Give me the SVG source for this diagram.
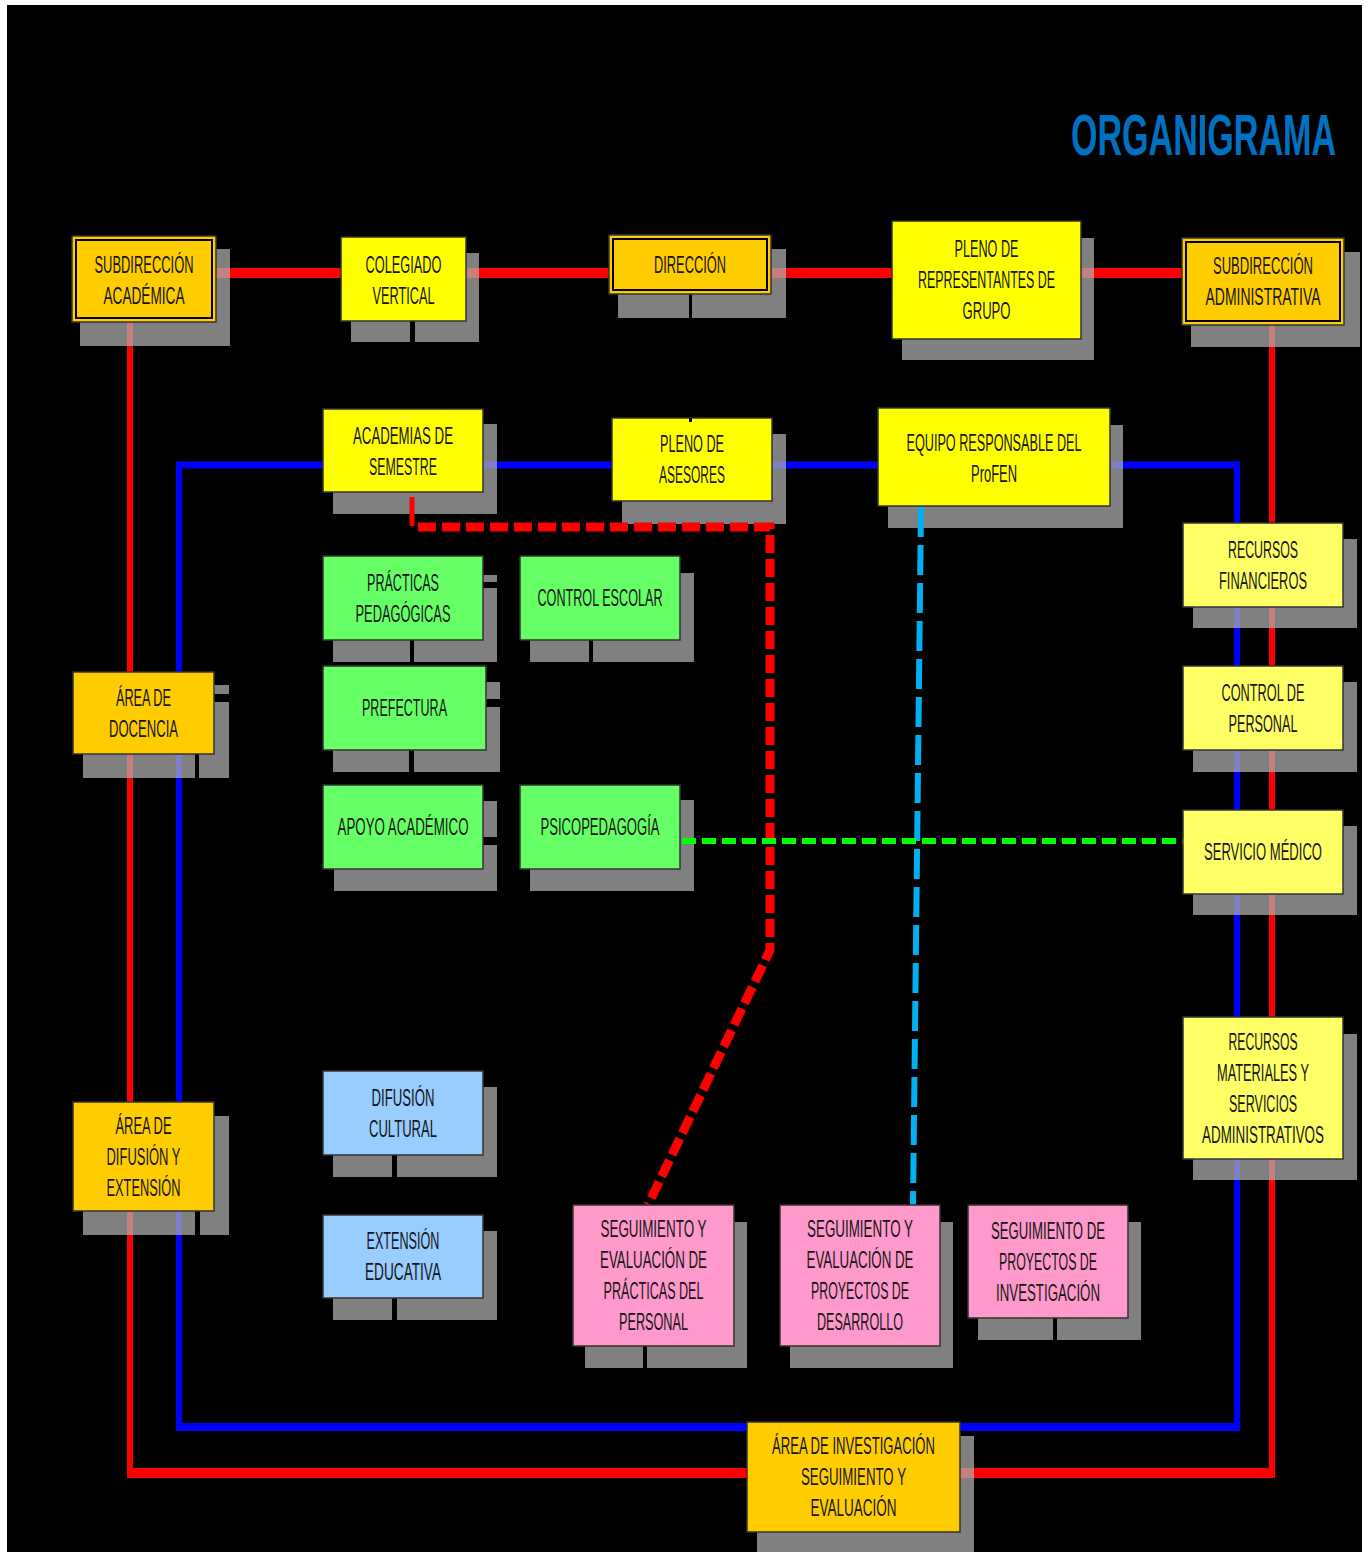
<svg xmlns="http://www.w3.org/2000/svg" width="1367" height="1552" viewBox="0 0 1367 1552">
<style>
.t{font-family:"Liberation Sans",Arial,sans-serif;font-size:23px;fill:#151515;text-anchor:middle}
.title{font-family:"Liberation Sans",Arial,sans-serif;font-size:58px;font-weight:bold;fill:#0070C0}
.sh{fill:#b2b2b2;fill-opacity:0.72}
.bx{stroke:#333;stroke-width:1.5}
.or{fill:#FFCC00}
.ye{fill:#FFFF00}
.ly{fill:#FFFF66}
.gr{fill:#66FF66}
.bl{fill:#99CCFF}
.pk{fill:#FF99CC}
.in{fill:none;stroke:#000;stroke-width:2}
.cut{fill:#000}
</style>
<rect x="0" y="0" width="1367" height="1552" fill="#fff"/>
<rect x="7" y="5" width="1355" height="1547" fill="#000"/>
<text class="title" x="1071" y="155" textLength="265" lengthAdjust="spacingAndGlyphs">ORGANIGRAMA</text>

<g id="connectors-solid" fill="none">
  <line x1="216" y1="273" x2="1182" y2="273" stroke="#FF0000" stroke-width="10"/>
  <line x1="130" y1="322" x2="130" y2="1478" stroke="#FF0000" stroke-width="6"/>
  <line x1="127" y1="1473" x2="1275" y2="1473" stroke="#FF0000" stroke-width="10"/>
  <line x1="1272" y1="325" x2="1272" y2="1478" stroke="#FF0000" stroke-width="6"/>
  <line x1="176" y1="465" x2="1240" y2="465" stroke="#0000FF" stroke-width="7"/>
  <line x1="179" y1="462" x2="179" y2="1431" stroke="#0000FF" stroke-width="6"/>
  <line x1="176" y1="1427" x2="1240" y2="1427" stroke="#0000FF" stroke-width="8"/>
  <line x1="1237" y1="462" x2="1237" y2="1431" stroke="#0000FF" stroke-width="6"/>
</g>

<g id="shadows">
  <rect class="sh" x="80" y="249" width="150" height="97"/>
  <rect class="sh" x="351" y="253" width="128" height="89"/>
  <rect class="sh" x="618" y="249" width="168" height="69"/>
  <rect class="sh" x="902" y="238" width="192" height="122"/>
  <rect class="sh" x="1191" y="252" width="169" height="95"/>
  <rect class="sh" x="333" y="424" width="164" height="90"/>
  <rect class="sh" x="622" y="434" width="164" height="90"/>
  <rect class="sh" x="888" y="425" width="235" height="103"/>
  <rect class="sh" x="333" y="575" width="164" height="87"/>
  <rect class="sh" x="530" y="573" width="164" height="89"/>
  <rect class="sh" x="333" y="682" width="167" height="90"/>
  <rect class="sh" x="334" y="801" width="163" height="90"/>
  <rect class="sh" x="530" y="800" width="164" height="91"/>
  <rect class="sh" x="83" y="685" width="146" height="93"/>
  <rect class="sh" x="1193" y="539" width="164" height="89"/>
  <rect class="sh" x="1193" y="682" width="164" height="90"/>
  <rect class="sh" x="1193" y="826" width="164" height="89"/>
  <rect class="sh" x="1193" y="1034" width="164" height="146"/>
  <rect class="sh" x="333" y="1087" width="164" height="90"/>
  <rect class="sh" x="333" y="1231" width="164" height="89"/>
  <rect class="sh" x="83" y="1116" width="146" height="119"/>
  <rect class="sh" x="585" y="1222" width="162" height="146"/>
  <rect class="sh" x="790" y="1222" width="163" height="146"/>
  <rect class="sh" x="978" y="1222" width="163" height="118"/>
  <rect class="sh" x="757" y="1436" width="217" height="116"/>
  <rect class="cut" x="410" y="321" width="5" height="22"/>
  <rect class="cut" x="689" y="294" width="3" height="128"/>
  <rect class="cut" x="410" y="640" width="4" height="23"/>
  <rect class="cut" x="483" y="582" width="15" height="6"/>
  <rect class="cut" x="589" y="640" width="4" height="23"/>
  <rect class="cut" x="409" y="750" width="5" height="23"/>
  <rect class="cut" x="486" y="699" width="15" height="8"/>
  <rect class="cut" x="195" y="754" width="4" height="25"/>
  <rect class="cut" x="214" y="694" width="16" height="8"/>
  <rect class="cut" x="483" y="837" width="15" height="8"/>
  <rect class="cut" x="195" y="1211" width="5" height="25"/>
  <rect class="cut" x="392" y="1155" width="5" height="23"/>
  <rect class="cut" x="392" y="1298" width="5" height="23"/>
  <rect class="cut" x="643" y="1346" width="4" height="23"/>
  <rect class="cut" x="1053" y="1318" width="4" height="23"/>
</g>

<g id="connectors-dashed" fill="none">
  <line x1="412" y1="497" x2="412" y2="526" stroke="#FF0000" stroke-width="5"/>
  <polyline points="418,527 770,527 770,950 648,1205" stroke="#FF0000" stroke-width="9" stroke-dasharray="18 6"/>
  <line x1="921" y1="507" x2="913" y2="1205" stroke="#00B0F0" stroke-width="6" stroke-dasharray="30 8"/>
  <line x1="682" y1="841" x2="1183" y2="841" stroke="#00FF00" stroke-width="6" stroke-dasharray="14 6"/>
</g>

<g id="subdireccion-academica">
  <rect class="bx or" x="72" y="236" width="144" height="86" stroke="#9a7a00"/>
  <rect class="in" x="76" y="240" width="136" height="78"/>
  <text class="t" x="144" y="273" textLength="99" lengthAdjust="spacingAndGlyphs">SUBDIRECCIÓN</text>
  <text class="t" x="144" y="304" textLength="81" lengthAdjust="spacingAndGlyphs">ACADÉMICA</text>
</g>
<g id="colegiado-vertical">
  <rect class="bx ye" x="341" y="237" width="125" height="84"/>
  <text class="t" x="403.5" y="273" textLength="76" lengthAdjust="spacingAndGlyphs">COLEGIADO</text>
  <text class="t" x="403.5" y="304" textLength="62" lengthAdjust="spacingAndGlyphs">VERTICAL</text>
</g>
<g id="direccion">
  <rect class="bx or" x="609" y="235" width="162" height="59" stroke="#9a7a00"/>
  <rect class="in" x="613" y="239" width="154" height="51"/>
  <text class="t" x="690" y="273" textLength="72" lengthAdjust="spacingAndGlyphs">DIRECCIÓN</text>
</g>
<g id="pleno-representantes">
  <rect class="bx ye" x="892" y="221" width="189" height="118"/>
  <text class="t" x="986.5" y="257" textLength="64" lengthAdjust="spacingAndGlyphs">PLENO DE</text>
  <text class="t" x="986.5" y="288" textLength="137" lengthAdjust="spacingAndGlyphs">REPRESENTANTES DE</text>
  <text class="t" x="986.5" y="319" textLength="48" lengthAdjust="spacingAndGlyphs">GRUPO</text>
</g>
<g id="subdireccion-administrativa">
  <rect class="bx or" x="1182" y="238" width="162" height="87" stroke="#9a7a00"/>
  <rect class="in" x="1186" y="242" width="154" height="79"/>
  <text class="t" x="1263" y="274" textLength="100" lengthAdjust="spacingAndGlyphs">SUBDIRECCIÓN</text>
  <text class="t" x="1263" y="305" textLength="115" lengthAdjust="spacingAndGlyphs">ADMINISTRATIVA</text>
</g>
<g id="academias-semestre">
  <rect class="bx ye" x="323" y="409" width="160" height="83"/>
  <text class="t" x="403" y="444" textLength="100" lengthAdjust="spacingAndGlyphs">ACADEMIAS DE</text>
  <text class="t" x="403" y="475" textLength="68" lengthAdjust="spacingAndGlyphs">SEMESTRE</text>
</g>
<g id="pleno-asesores">
  <rect class="bx ye" x="612" y="418" width="160" height="83"/>
  <rect class="cut" x="689" y="418" width="3" height="4"/>
  <text class="t" x="692" y="452" textLength="64" lengthAdjust="spacingAndGlyphs">PLENO DE</text>
  <text class="t" x="692" y="483" textLength="66" lengthAdjust="spacingAndGlyphs">ASESORES</text>
</g>
<g id="equipo-profen">
  <rect class="bx ye" x="878" y="408" width="232" height="98"/>
  <text class="t" x="994" y="451" textLength="175" lengthAdjust="spacingAndGlyphs">EQUIPO RESPONSABLE DEL</text>
  <text class="t" x="994" y="482" textLength="46" lengthAdjust="spacingAndGlyphs">ProFEN</text>
</g>
<g id="practicas-pedagogicas">
  <rect class="bx gr" x="323" y="556" width="160" height="84"/>
  <text class="t" x="403" y="591" textLength="72" lengthAdjust="spacingAndGlyphs">PRÁCTICAS</text>
  <text class="t" x="403" y="622" textLength="95" lengthAdjust="spacingAndGlyphs">PEDAGÓGICAS</text>
</g>
<g id="control-escolar">
  <rect class="bx gr" x="520" y="556" width="160" height="84"/>
  <text class="t" x="600" y="606" textLength="125" lengthAdjust="spacingAndGlyphs">CONTROL ESCOLAR</text>
</g>
<g id="prefectura">
  <rect class="bx gr" x="323" y="666" width="163" height="84"/>
  <text class="t" x="404.5" y="716" textLength="85" lengthAdjust="spacingAndGlyphs">PREFECTURA</text>
</g>
<g id="apoyo-academico">
  <rect class="bx gr" x="323" y="785" width="160" height="84"/>
  <text class="t" x="403" y="835" textLength="131" lengthAdjust="spacingAndGlyphs">APOYO ACADÉMICO</text>
</g>
<g id="psicopedagogia">
  <rect class="bx gr" x="520" y="785" width="160" height="84"/>
  <text class="t" x="600" y="835" textLength="119" lengthAdjust="spacingAndGlyphs">PSICOPEDAGOGÍA</text>
</g>
<g id="area-docencia">
  <rect class="bx or" x="73" y="672" width="141" height="82"/>
  <text class="t" x="143.5" y="706" textLength="55" lengthAdjust="spacingAndGlyphs">ÁREA DE</text>
  <text class="t" x="143.5" y="737" textLength="69" lengthAdjust="spacingAndGlyphs">DOCENCIA</text>
</g>
<g id="recursos-financieros">
  <rect class="bx ly" x="1183" y="523" width="160" height="84"/>
  <text class="t" x="1263" y="558" textLength="70" lengthAdjust="spacingAndGlyphs">RECURSOS</text>
  <text class="t" x="1263" y="589" textLength="88" lengthAdjust="spacingAndGlyphs">FINANCIEROS</text>
</g>
<g id="control-personal">
  <rect class="bx ly" x="1183" y="666" width="160" height="84"/>
  <text class="t" x="1263" y="701" textLength="83" lengthAdjust="spacingAndGlyphs">CONTROL DE</text>
  <text class="t" x="1263" y="732" textLength="69" lengthAdjust="spacingAndGlyphs">PERSONAL</text>
</g>
<g id="servicio-medico">
  <rect class="bx ly" x="1183" y="810" width="160" height="84"/>
  <text class="t" x="1263" y="860" textLength="118" lengthAdjust="spacingAndGlyphs">SERVICIO MÉDICO</text>
</g>
<g id="recursos-materiales">
  <rect class="bx ly" x="1183" y="1017" width="160" height="142"/>
  <text class="t" x="1263" y="1050" textLength="69" lengthAdjust="spacingAndGlyphs">RECURSOS</text>
  <text class="t" x="1263" y="1081" textLength="92" lengthAdjust="spacingAndGlyphs">MATERIALES Y</text>
  <text class="t" x="1263" y="1112" textLength="68" lengthAdjust="spacingAndGlyphs">SERVICIOS</text>
  <text class="t" x="1263" y="1143" textLength="122" lengthAdjust="spacingAndGlyphs">ADMINISTRATIVOS</text>
</g>
<g id="difusion-cultural">
  <rect class="bx bl" x="323" y="1071" width="160" height="84"/>
  <text class="t" x="403" y="1106" textLength="63" lengthAdjust="spacingAndGlyphs">DIFUSIÓN</text>
  <text class="t" x="403" y="1137" textLength="68" lengthAdjust="spacingAndGlyphs">CULTURAL</text>
</g>
<g id="extension-educativa">
  <rect class="bx bl" x="323" y="1215" width="160" height="83"/>
  <text class="t" x="403" y="1249" textLength="73" lengthAdjust="spacingAndGlyphs">EXTENSIÓN</text>
  <text class="t" x="403" y="1280" textLength="76" lengthAdjust="spacingAndGlyphs">EDUCATIVA</text>
</g>
<g id="area-difusion-extension">
  <rect class="bx or" x="73" y="1102" width="141" height="109"/>
  <text class="t" x="143.5" y="1134" textLength="56" lengthAdjust="spacingAndGlyphs">ÁREA DE</text>
  <text class="t" x="143.5" y="1165" textLength="74" lengthAdjust="spacingAndGlyphs">DIFUSIÓN Y</text>
  <text class="t" x="143.5" y="1196" textLength="74" lengthAdjust="spacingAndGlyphs">EXTENSIÓN</text>
</g>
<g id="seguimiento-practicas">
  <rect class="bx pk" x="573" y="1205" width="161" height="141"/>
  <text class="t" x="653.5" y="1237" textLength="106" lengthAdjust="spacingAndGlyphs">SEGUIMIENTO Y</text>
  <text class="t" x="653.5" y="1268" textLength="107" lengthAdjust="spacingAndGlyphs">EVALUACIÓN DE</text>
  <text class="t" x="653.5" y="1299" textLength="100" lengthAdjust="spacingAndGlyphs">PRÁCTICAS DEL</text>
  <text class="t" x="653.5" y="1330" textLength="69" lengthAdjust="spacingAndGlyphs">PERSONAL</text>
</g>
<g id="seguimiento-desarrollo">
  <rect class="bx pk" x="780" y="1205" width="160" height="141"/>
  <text class="t" x="860" y="1237" textLength="106" lengthAdjust="spacingAndGlyphs">SEGUIMIENTO Y</text>
  <text class="t" x="860" y="1268" textLength="107" lengthAdjust="spacingAndGlyphs">EVALUACIÓN DE</text>
  <text class="t" x="860" y="1299" textLength="98" lengthAdjust="spacingAndGlyphs">PROYECTOS DE</text>
  <text class="t" x="860" y="1330" textLength="86" lengthAdjust="spacingAndGlyphs">DESARROLLO</text>
</g>
<g id="seguimiento-investigacion">
  <rect class="bx pk" x="968" y="1205" width="160" height="113"/>
  <text class="t" x="1048" y="1239" textLength="114" lengthAdjust="spacingAndGlyphs">SEGUIMIENTO DE</text>
  <text class="t" x="1048" y="1270" textLength="98" lengthAdjust="spacingAndGlyphs">PROYECTOS DE</text>
  <text class="t" x="1048" y="1301" textLength="104" lengthAdjust="spacingAndGlyphs">INVESTIGACIÓN</text>
</g>
<g id="area-investigacion">
  <rect class="bx or" x="747" y="1422" width="213" height="110"/>
  <text class="t" x="853.5" y="1454" textLength="163" lengthAdjust="spacingAndGlyphs">ÁREA DE INVESTIGACIÓN</text>
  <text class="t" x="853.5" y="1485" textLength="105" lengthAdjust="spacingAndGlyphs">SEGUIMIENTO Y</text>
  <text class="t" x="853.5" y="1516" textLength="86" lengthAdjust="spacingAndGlyphs">EVALUACIÓN</text>
</g>
</svg>
